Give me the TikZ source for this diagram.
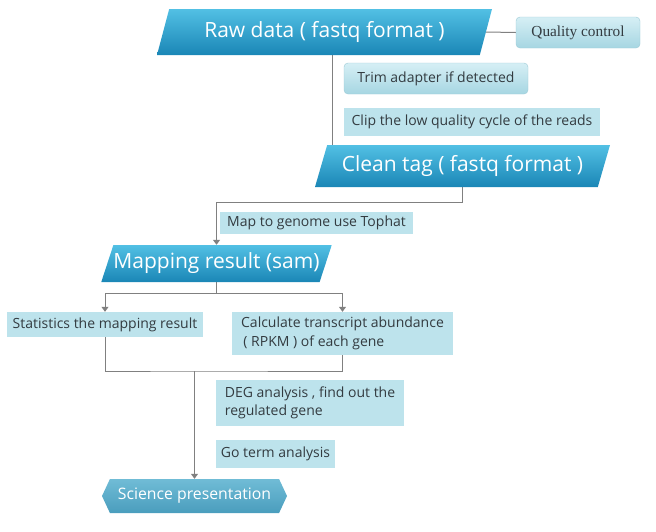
\documentclass[tikz,border=0pt]{standalone}
\usepackage{fontspec}
\setmainfont{Open Sans}
\newfontfamily\qcfont{Liberation Serif}
\usetikzlibrary{shapes.geometric, shapes.symbols, arrows.meta, backgrounds}

\definecolor{dataTop}{HTML}{52C0E4}
\definecolor{dataBot}{HTML}{1A86B6}
\definecolor{noteTop}{HTML}{D6EFF5}
\definecolor{noteBot}{HTML}{A6D6E2}
\definecolor{noteFlat}{HTML}{BDE3EC}
\definecolor{noteLine}{HTML}{9CCAD6}
\definecolor{presTop}{HTML}{70BCD6}
\definecolor{presBot}{HTML}{4A9DBD}
\definecolor{linkGray}{HTML}{808080}
\definecolor{textGray}{HTML}{333B40}

\begin{document}
\begin{tikzpicture}[x=1pt, y=-1pt, >={Triangle[width=7pt,length=5pt]},
    data/.style={trapezium, trapezium left angle=60, trapezium right angle=120, trapezium stretches body, top color=dataTop, bottom color=dataBot, text=white, inner sep=0pt, font=\fontsize{21}{24}\selectfont},
    note/.style={rectangle, rounded corners=4pt, draw=noteLine, top color=noteTop, bottom color=noteBot, text=textGray, inner sep=0pt, font=\fontsize{14}{18.5}\selectfont},
    flat/.style={rectangle, fill=noteFlat, text=textGray, inner sep=0pt, align=left, font=\fontsize{14}{18.5}\selectfont},
    pres/.style={signal, signal from=nowhere, signal to=west and east, signal pointer angle=130, top color=presTop, bottom color=presBot, text=white, inner sep=0pt, font=\fontsize{15.8}{18}\selectfont},
    link/.style={draw=linkGray, line width=1pt}]

    \useasboundingbox (0,0) rectangle (656,531);

    % Main data
    \node (raw) [data, minimum width=335, minimum height=46] at (324.5,32) {Raw data ( fastq format )};
    \node (clean) [data, minimum width=295, minimum height=42] at (462.5,166) {Clean tag ( fastq format )};
    \node (mapres) [data, minimum width=227, minimum height=37] at (216.5,263.5) {Mapping result (sam)};
    \node (present) [pres, minimum width=185, minimum height=34] at (194.5,496) {Science presentation};

    % Steps
    \node (qc) [note, minimum width=124, minimum height=31, font=\qcfont\fontsize{15.3}{18}\selectfont] at (578,32.5) {Quality control};
    \node (trim) [note, minimum width=184, minimum height=31] at (436,78.5) {Trim adapter if detected};
    \node (clip) [flat, minimum width=256, minimum height=28] at (472,122) {Clip the low quality cycle of the reads};
    \node (tophat) [flat, minimum width=193, minimum height=22] at (316.5,223) {Map to genome use Tophat};
    \node (stat) [flat, minimum width=196, minimum height=25] at (105,324.5) {Statistics the mapping result};
    \node (calc) [flat, minimum width=221, minimum height=43] at (342.5,333.5) {Calculate transcript abundance\\\,( RPKM ) of each gene};
    \node (deg) [flat, minimum width=188, minimum height=46] at (310,403) {DEG analysis , find out the\\regulated gene};
    \node (goterm) [flat, minimum width=119, minimum height=28] at (275.5,454) {Go term analysis};

    \coordinate (rawdrop) at (332,160);
    \coordinate (merge) at (194.5,371);

    % Connections
    \begin{scope}[on background layer]
    \draw[link] (raw.east) -- (qc.west);
    \draw[link] (raw.south -| rawdrop) -- (rawdrop);
    \draw[link, ->] (clean.south) -- ++(0,15) -| (mapres.north);
    \draw[link, ->] (mapres.south) -- ++(0,11) -| (stat.north);
    \draw[link, ->] (mapres.south) -- ++(0,11) -| (calc.north);
    \draw[link] (stat.south) |- (merge) -| (calc.south);
    \draw[link, ->] (merge) -- (present.north);
    \end{scope}

\end{tikzpicture}
\end{document}
